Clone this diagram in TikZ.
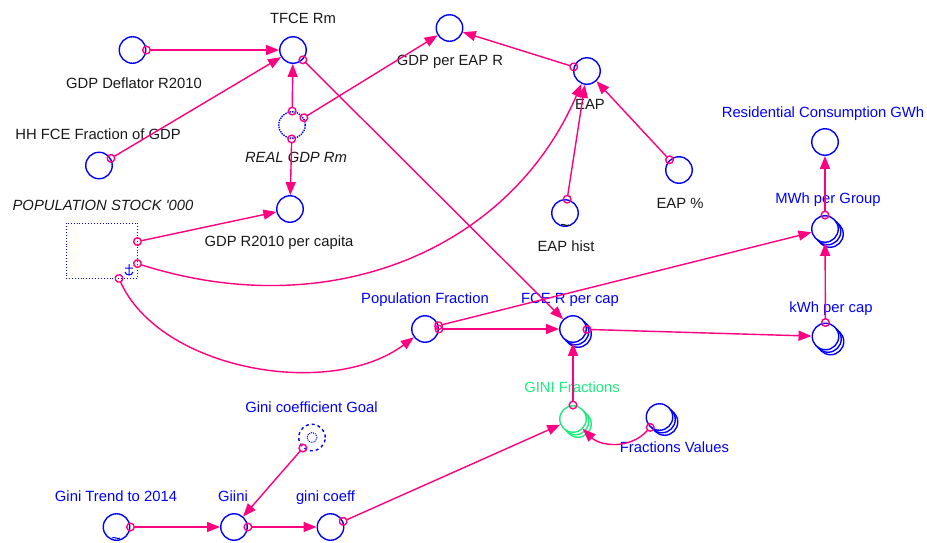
\documentclass[tikz,border=0pt]{standalone}
\usepackage{fontspec}
\setmainfont{Liberation Sans}
\usepackage{tikz}
\usetikzlibrary{arrows.meta,shadows}
\definecolor{vblue}{RGB}{0,0,255}
\definecolor{linkpink}{RGB}{255,0,128}
\definecolor{gfrac}{RGB}{30,235,125}
\definecolor{ink}{RGB}{25,25,25}

\begin{document}
\begin{tikzpicture}[x=1pt,y=-1pt,
  var/.style={circle,draw=vblue,line width=1.4pt,fill=white,minimum size=26.5pt,inner sep=0pt},
  arrvar/.style={var,draw=#1,double copy shadow={shadow xshift=2.5pt,shadow yshift=-2.5pt,draw=#1,fill=white,line width=1.4pt}},
  arrvar/.default=vblue,
  link/.style={draw=linkpink,line width=1.4pt,{Circle[open,length=9pt,width=9pt]}-{Triangle[length=13pt,width=10pt]},shorten <=-4.5pt},
  lbl/.style={font=\fontsize{14.8}{16}\selectfont,text height=10.6pt,text depth=0pt,inner sep=0pt},
  lbk/.style={lbl,text=ink},
  lbb/.style={lbl,text=vblue},
  ital/.style={font=\fontsize{14.8}{16}\selectfont\itshape}]
  \useasboundingbox (0,0) rectangle (927,542);

  \node[var] (deflator) at (132.5,50) {};
  \node[var] (tfce) at (293,50) {};
  \node[var] (hhfce) at (99,165.5) {};
  \node[var,densely dotted] (realgdp) at (292,125) {};
  \node[var] (gdpeap) at (449.5,28) {};
  \node[var] (eap) at (587,71) {};
  \node[var] (eaphist) at (565,213) {};
  \node[var] (eappct) at (679,170) {};
  \node[var] (resid) at (825,142) {};
  \node[arrvar] (mwh) at (825,229) {};
  \node[arrvar] (kwh) at (825.5,336.5) {};
  \node[var] (gdpcap) at (290,209) {};
  \node[draw=vblue,dotted,line width=0.9pt,minimum width=71pt,minimum height=55pt,inner sep=0pt] (pop) at (101.5,250.5) {};
  \node[var] (popfrac) at (425,329) {};
  \node[arrvar] (fcecap) at (573,329) {};
  \node[arrvar=gfrac] (gini) at (573,419) {};
  \node[arrvar] (fval) at (659.5,417) {};
  \node[var,dashed] (goal) at (312,437.5) {};
  \node[var] (trend) at (116.5,527) {};
  \node[var] (giini) at (234,527) {};
  \node[var] (ginic) at (330.5,527) {};

  \node[lbk] (deflator-l) at (134,83) {GDP Deflator R2010};
  \node[lbk] (tfce-l) at (303,18) {TFCE Rm};
  \node[lbk] (hhfce-l) at (98,134) {HH FCE Fraction of GDP};
  \node[lbk,ital] (realgdp-l) at (296,157) {REAL GDP Rm};
  \node[lbk] (gdpeap-l) at (450,60) {GDP per EAP R};
  \node[lbk] (eap-l) at (590,104) {EAP};
  \node[lbk] (eaphist-l) at (566,246) {EAP hist};
  \node[lbk] (eappct-l) at (680,203) {EAP \%};
  \node[lbb] (resid-l) at (823,112) {Residential Consumption GWh};
  \node[lbb] (mwh-l) at (828,198) {MWh per Group};
  \node[lbb] (kwh-l) at (831,307) {kWh per cap};
  \node[lbk] (gdpcap-l) at (279,241) {GDP R2010 per capita};
  \node[lbk,ital] (pop-l) at (103,205) {POPULATION STOCK \textquotesingle000};
  \node[lbb] (popfrac-l) at (425,298) {Population Fraction};
  \node[lbb] (fcecap-l) at (570,298) {FCE R per cap};
  \node[lbl,text=gfrac] (gini-l) at (572,387) {GINI Fractions};
  \node[lbb] (fval-l) at (674.5,447) {Fractions Values};
  \node[lbb] (goal-l) at (311.5,407) {Gini coefficient Goal};
  \node[lbb] (trend-l) at (116,496) {Gini Trend to 2014};
  \node[lbb] (giini-l) at (233,496) {Giini};
  \node[lbb] (ginic-l) at (325.5,496) {gini coeff};

  \draw[vblue,line width=1pt] (129,264) -- (129,275) (125,268) -- (133,268)
    (125,272) .. controls (126,276) and (132,276) .. (133,272);
  \draw[vblue,densely dotted,line width=1pt] (goal) circle[radius=5];
  \draw[ink,line width=1.2pt] (561,225) .. controls (563,223) and (567,227) .. (569,225);
  \draw[vblue,line width=1pt] (112,538) .. controls (114,536) and (118,540) .. (120,538);

  \draw[link] (deflator) -- (tfce);
  \draw[link] (hhfce) -- (tfce);
  \draw[link] (realgdp) -- (tfce);
  \draw[link] (realgdp) -- (gdpeap);
  \draw[link] (realgdp) -- (gdpcap);
  \draw[link] (tfce) -- (fcecap);
  \draw[link] (eap) -- (gdpeap);
  \draw[link] (eaphist) -- (eap);
  \draw[link] (eappct) -- (eap);
  \draw[link] (pop.14) -- (gdpcap);
  \draw[link] (pop.-20) .. controls (330,325) and (510,250) .. (eap);
  \draw[link] (pop.-58) .. controls (160,370) and (330,400) .. (popfrac);
  \draw[link] (popfrac) -- (mwh);
  \draw[link] (popfrac) -- (fcecap);
  \draw[link] (fcecap) -- (kwh);
  \draw[link] (kwh) -- (mwh);
  \draw[link] (mwh) -- (resid);
  \draw[link] (gini) -- (fcecap);
  \draw[link] (ginic) -- (gini);
  \draw[link] (fval) .. controls (630,450) and (600,446) .. (gini);
  \draw[link] (goal) -- (giini);
  \draw[link] (trend) -- (giini);
  \draw[link] (giini) -- (ginic);
\end{tikzpicture}
\end{document}
